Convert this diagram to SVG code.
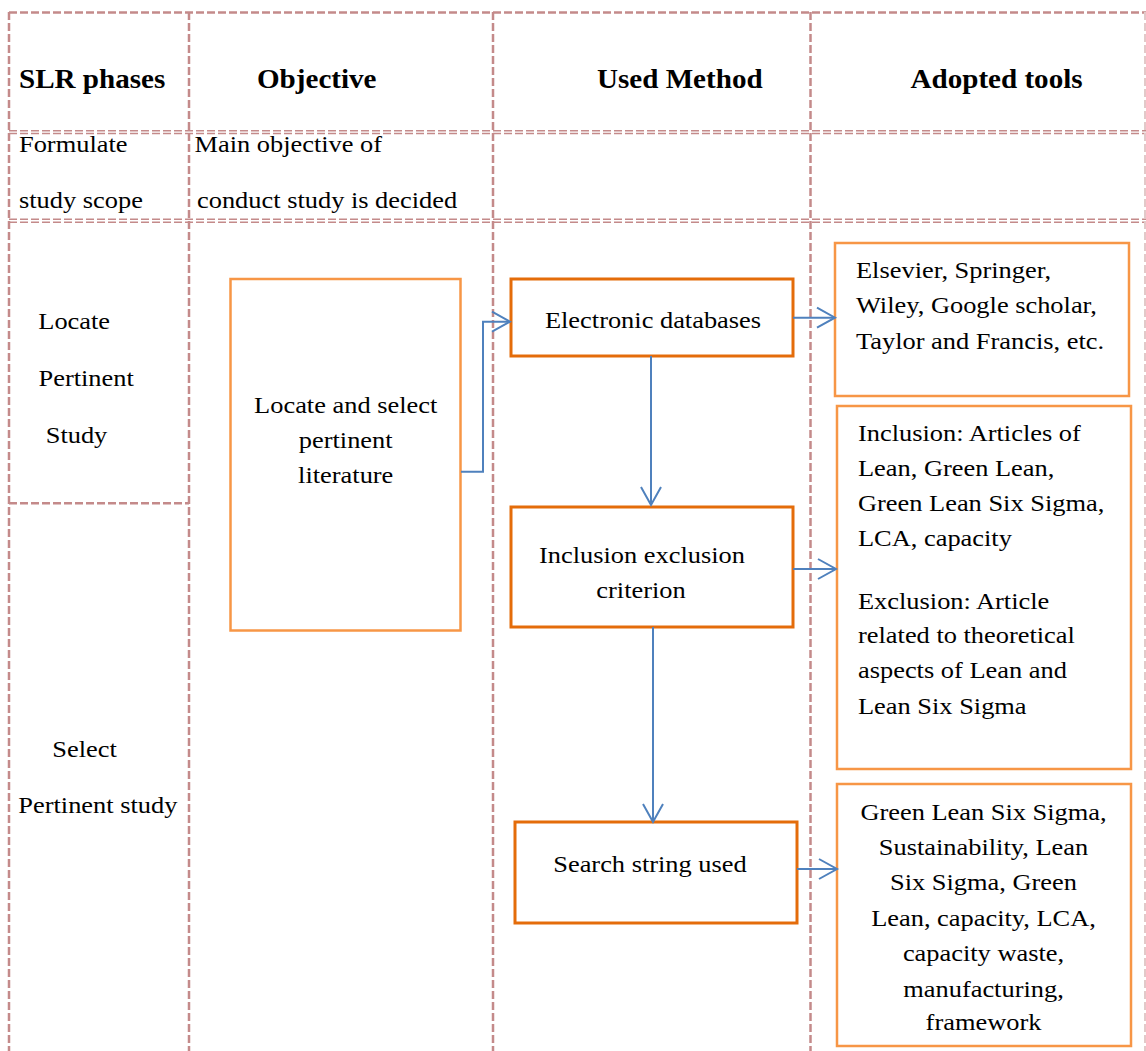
<svg xmlns="http://www.w3.org/2000/svg" width="1146" height="1051" viewBox="0 0 1146 1051">
<style>
.grid{stroke:#C48A8A;stroke-width:2.5;stroke-dasharray:8 3;fill:none}
.gridd{stroke:#C48A8A;stroke-width:1.6;stroke-dasharray:8 3;fill:none}
.gridl{stroke:#E2C9C9;stroke-width:2;stroke-dasharray:8 3;fill:none}
.bl{fill:#fff;stroke:#F79646;stroke-width:2.5}
.bm{fill:#fff;stroke:#E46C0A;stroke-width:3}
.t{font-family:"Liberation Serif","Times New Roman",serif;font-size:24px;fill:#000}
.h{font-family:"Liberation Serif","Times New Roman",serif;font-size:26.7px;font-weight:bold;fill:#000}
.c{text-anchor:middle}
.conn{fill:none;stroke:#4F81BD;stroke-width:2;marker-end:url(#ah)}
</style>
<defs>
<marker id="ah" markerUnits="userSpaceOnUse" markerWidth="24" markerHeight="24" viewBox="0 0 24 24" refX="20" refY="12" orient="auto">
<path d="M2,2 L20,12 L2,22" fill="none" stroke="#4F81BD" stroke-width="2"/>
</marker>
</defs>
<rect width="1146" height="1051" fill="#fff"/>
<g id="grid">
<line class="grid" x1="9" y1="12.5" x2="1146" y2="12.5"/>
<line class="gridd" x1="9" y1="130.7" x2="1146" y2="130.7"/>
<line class="gridd" x1="9" y1="133.5" x2="1146" y2="133.5"/>
<line class="gridd" x1="9" y1="219.3" x2="1146" y2="219.3"/>
<line class="gridd" x1="9" y1="222.2" x2="1146" y2="222.2"/>
<line class="grid" x1="9" y1="503.3" x2="189" y2="503.3"/>
<line class="grid" x1="9" y1="12" x2="9" y2="1051"/>
<line class="grid" x1="189" y1="12" x2="189" y2="1051"/>
<line class="grid" x1="493" y1="12" x2="493" y2="1051"/>
<line class="grid" x1="810.5" y1="12" x2="810.5" y2="1051"/>
<line class="gridl" x1="1145" y1="12" x2="1145" y2="1051"/>
</g>
<g id="headers">
<text class="h" transform="translate(19,88) scale(1.09,1)">SLR phases</text>
<text class="h" transform="translate(257,88) scale(1.09,1)">Objective</text>
<text class="h" transform="translate(597,88) scale(1.09,1)">Used Method</text>
<text class="h" transform="translate(910.5,88) scale(1.09,1)">Adopted tools</text>
</g>
<g id="phase-formulate">
<text class="t" transform="translate(19,151.7) scale(1.1,1)">Formulate</text>
<text class="t" transform="translate(19,208) scale(1.1,1)">study scope</text>
</g>
<g id="objective-main">
<text class="t" transform="translate(194.5,151.7) scale(1.1,1)">Main objective of</text>
<text class="t" transform="translate(197,208) scale(1.1,1)">conduct study is decided</text>
</g>
<g id="phase-locate">
<text class="t" transform="translate(38.3,329.3) scale(1.1,1)">Locate</text>
<text class="t" transform="translate(38.5,386) scale(1.1,1)">Pertinent</text>
<text class="t" transform="translate(45.7,442.7) scale(1.1,1)">Study</text>
</g>
<g id="phase-select">
<text class="t" transform="translate(52.3,756.7) scale(1.1,1)">Select</text>
<text class="t" transform="translate(18.3,813.3) scale(1.1,1)">Pertinent study</text>
</g>
<g id="node-locate-select">
<rect class="bl" x="230.5" y="279" width="230" height="351.5"/>
<text class="t c" transform="translate(345.7,412.5) scale(1.1,1)">Locate and select</text>
<text class="t c" transform="translate(345.7,448) scale(1.1,1)">pertinent</text>
<text class="t c" transform="translate(345.7,483.3) scale(1.1,1)">literature</text>
</g>
<g id="node-electronic">
<rect class="bm" x="511" y="279" width="282" height="77"/>
<text class="t c" transform="translate(653,328.3) scale(1.1,1)">Electronic databases</text>
</g>
<g id="node-inclusion">
<rect class="bm" x="511" y="507" width="282" height="120"/>
<text class="t c" transform="translate(642,563.3) scale(1.1,1)">Inclusion exclusion</text>
<text class="t c" transform="translate(641,597.7) scale(1.1,1)">criterion</text>
</g>
<g id="node-search">
<rect class="bm" x="515" y="822" width="282" height="101"/>
<text class="t c" transform="translate(650,871.7) scale(1.1,1)">Search string used</text>
</g>
<g id="tool-databases">
<rect class="bl" x="835" y="243" width="294" height="153"/>
<text class="t" transform="translate(856,277.5) scale(1.1,1)">Elsevier, Springer,</text>
<text class="t" transform="translate(856,313.3) scale(1.1,1)">Wiley, Google scholar,</text>
<text class="t" transform="translate(856,349) scale(1.1,1)">Taylor and Francis, etc.</text>
</g>
<g id="tool-criteria">
<rect class="bl" x="837" y="406" width="294" height="363"/>
<text class="t" transform="translate(858,441) scale(1.1,1)">Inclusion: Articles of</text>
<text class="t" transform="translate(858,476) scale(1.1,1)">Lean, Green Lean,</text>
<text class="t" transform="translate(858,511) scale(1.1,1)">Green Lean Six Sigma,</text>
<text class="t" transform="translate(858,546) scale(1.1,1)">LCA, capacity</text>
<text class="t" transform="translate(858,609) scale(1.1,1)">Exclusion: Article</text>
<text class="t" transform="translate(858,643.3) scale(1.1,1)">related to theoretical</text>
<text class="t" transform="translate(858,678.3) scale(1.1,1)">aspects of Lean and</text>
<text class="t" transform="translate(858,714) scale(1.1,1)">Lean Six Sigma</text>
</g>
<g id="tool-search-strings">
<rect class="bl" x="837" y="784" width="294" height="262"/>
<text class="t c" transform="translate(983.5,820) scale(1.1,1)">Green Lean Six Sigma,</text>
<text class="t c" transform="translate(983.5,855) scale(1.1,1)">Sustainability, Lean</text>
<text class="t c" transform="translate(983.5,890) scale(1.1,1)">Six Sigma, Green</text>
<text class="t c" transform="translate(983.5,925.5) scale(1.1,1)">Lean, capacity, LCA,</text>
<text class="t c" transform="translate(983.5,960.7) scale(1.1,1)">capacity waste,</text>
<text class="t c" transform="translate(983.5,996.7) scale(1.1,1)">manufacturing,</text>
<text class="t c" transform="translate(983.5,1030) scale(1.1,1)">framework</text>
</g>
<g id="connectors">
<polyline class="conn" points="461,471.7 483,471.7 483,321.7 510,321.7"/>
<line class="conn" x1="793" y1="317.7" x2="835" y2="317.7"/>
<line class="conn" x1="651" y1="356" x2="651" y2="505"/>
<line class="conn" x1="793" y1="569" x2="836" y2="569"/>
<line class="conn" x1="653" y1="627" x2="653" y2="822"/>
<line class="conn" x1="797" y1="869" x2="837" y2="869"/>
</g>
</svg>
